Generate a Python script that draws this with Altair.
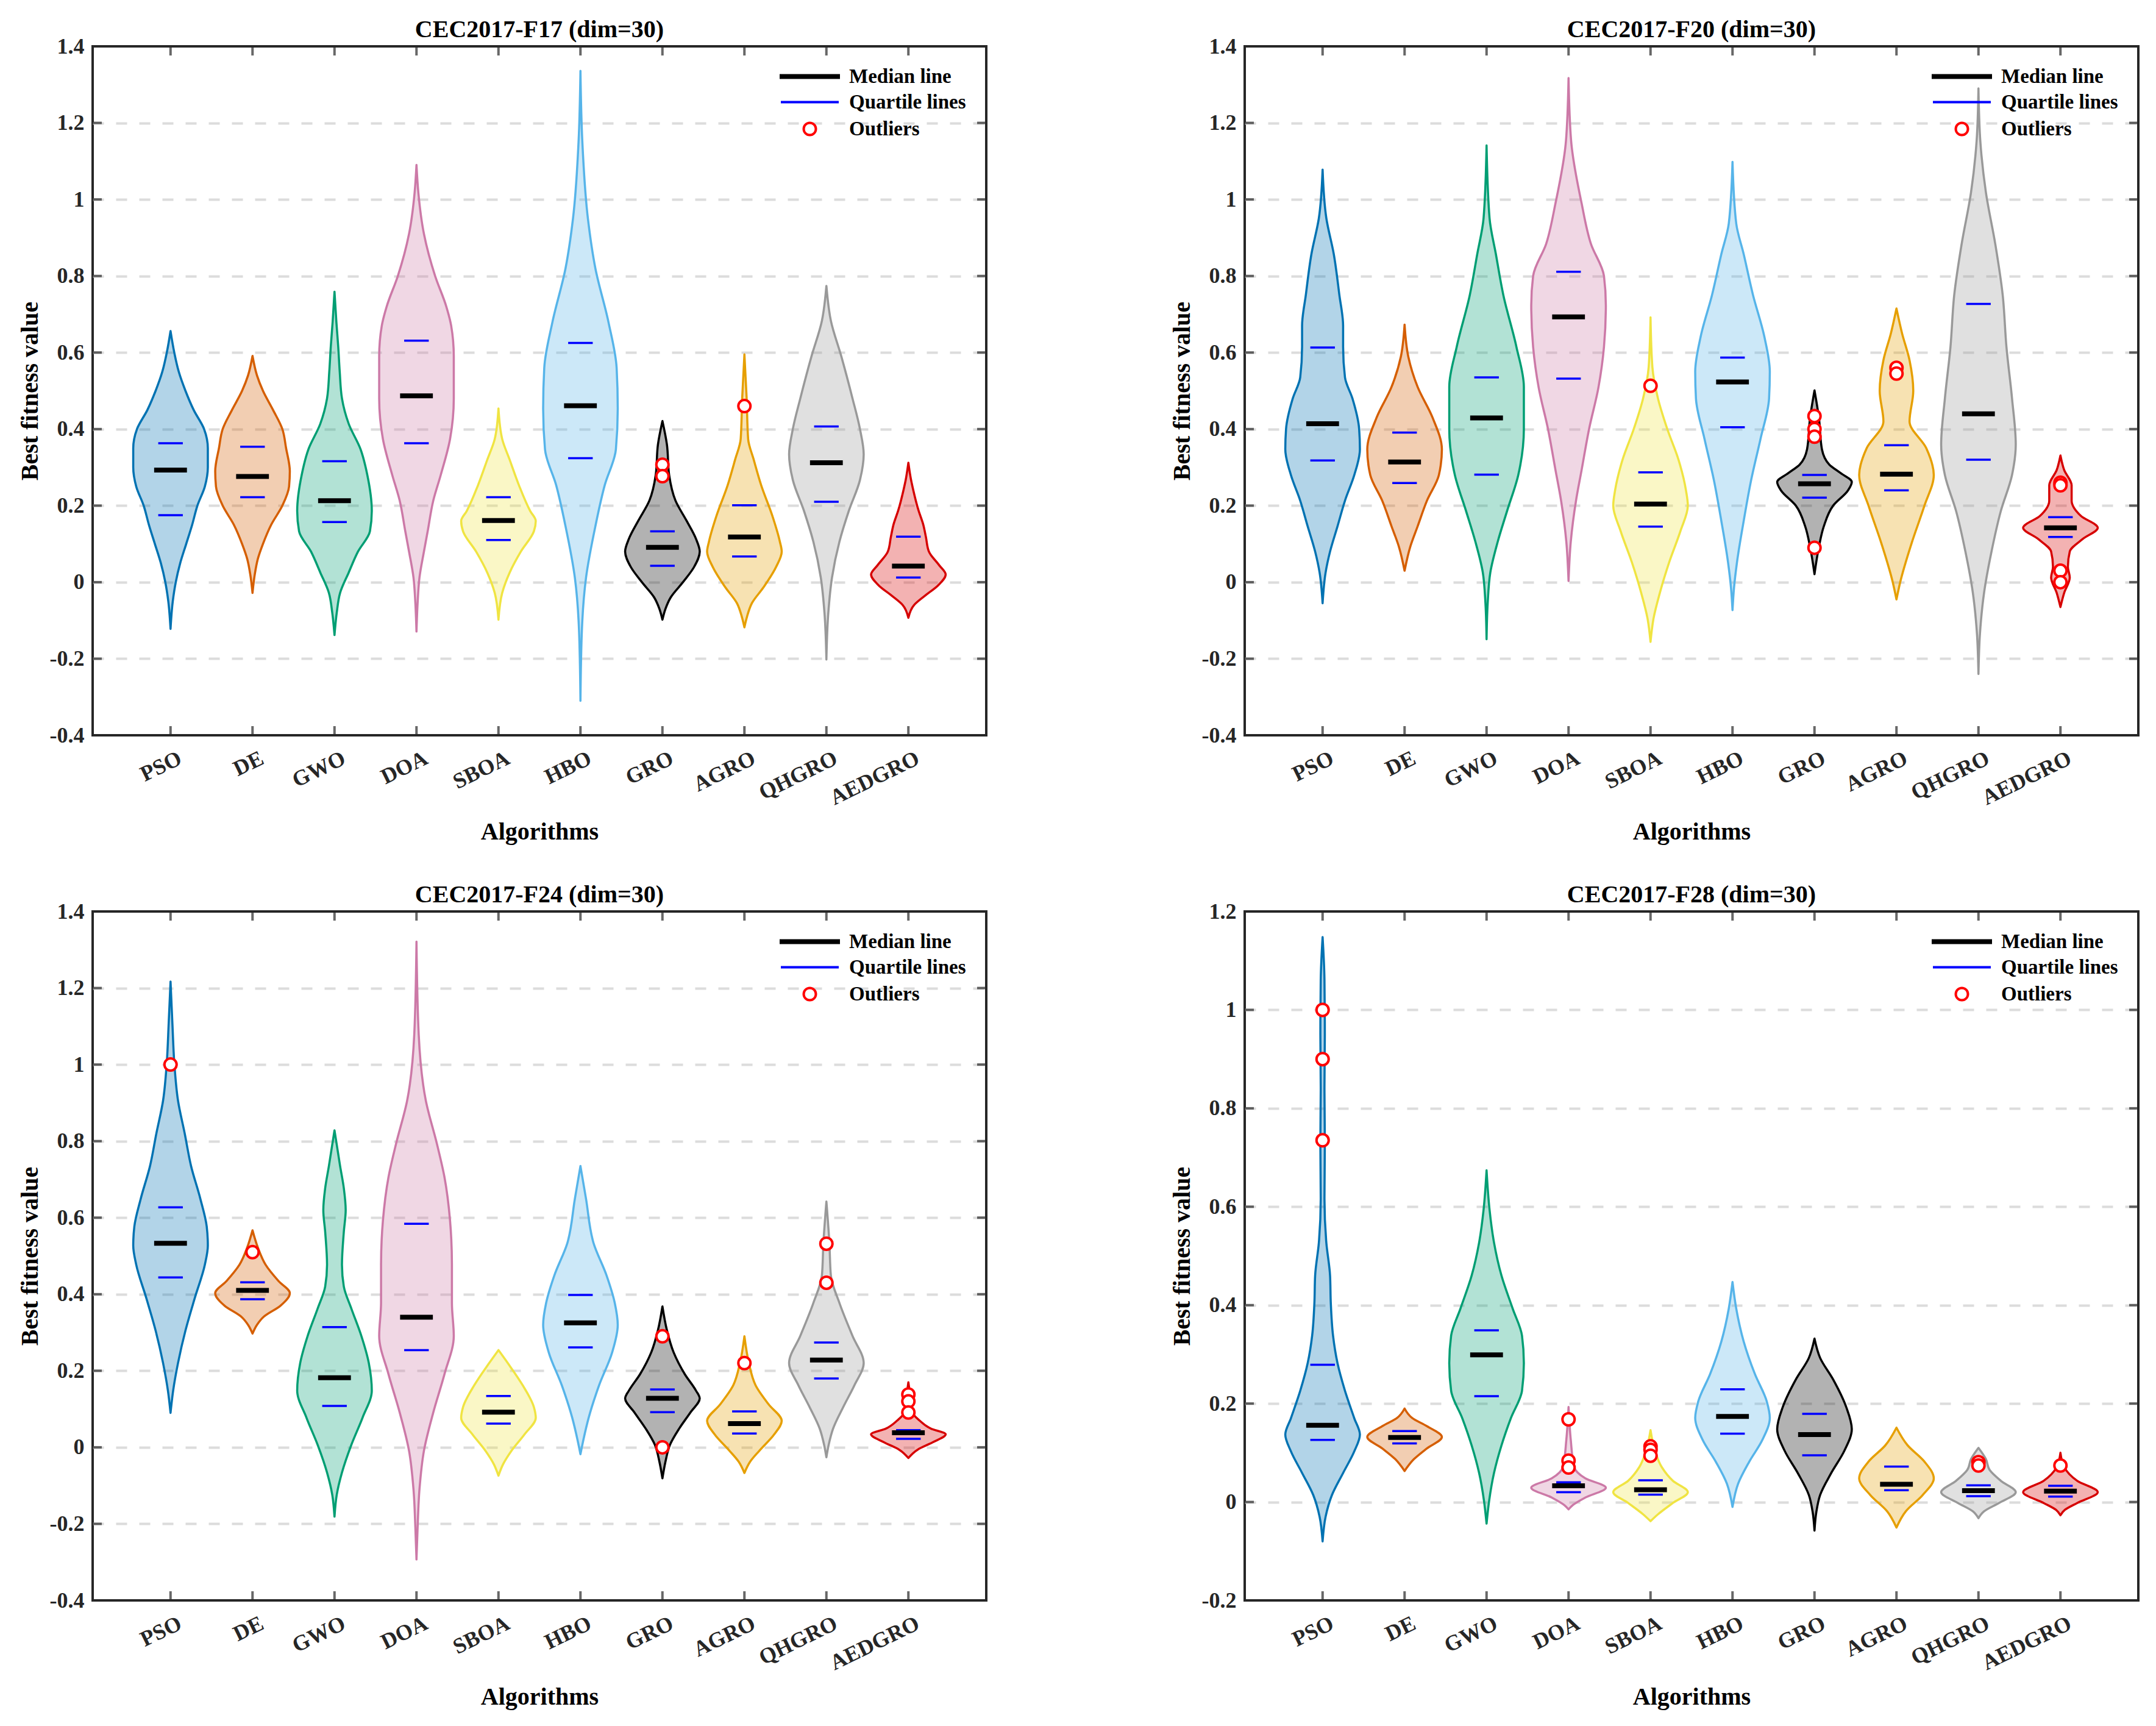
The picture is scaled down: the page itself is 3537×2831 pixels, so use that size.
import altair as alt
import pandas as pd

# ---------------- data ----------------
ALGOS = ["PSO", "DE", "GWO", "DOA", "SBOA", "HBO", "GRO", "AGRO", "QHGRO", "AEDGRO"]
LEGEND_ITEMS = ["Median line", "Quartile lines", "Outliers"]
YTICKS_WIDE = [-0.4, -0.2, 0, 0.2, 0.4, 0.6, 0.8, 1.0, 1.2, 1.4]
YTICKS_F28 = [-0.2, 0, 0.2, 0.4, 0.6, 0.8, 1.0, 1.2]

# violin outlines: (value, relative half-width)
F17_PROFILE = {
    "PSO": [(-0.122, 0), (-0.05, 0.06), (0.0, 0.14), (0.05, 0.26), (0.10, 0.42), (0.15, 0.58), (0.20, 0.72), (0.25, 0.92), (0.30, 1.0), (0.35, 1.0), (0.40, 0.9), (0.45, 0.62), (0.50, 0.40), (0.55, 0.22), (0.60, 0.10), (0.656, 0)],
    "DE": [(-0.028, 0), (0.02, 0.06), (0.06, 0.14), (0.10, 0.28), (0.15, 0.5), (0.20, 0.8), (0.25, 0.98), (0.29, 1.0), (0.35, 0.9), (0.40, 0.8), (0.45, 0.55), (0.50, 0.28), (0.54, 0.12), (0.591, 0)],
    "GWO": [(-0.138, 0), (-0.08, 0.06), (-0.028, 0.15), (0.025, 0.38), (0.08, 0.63), (0.133, 0.95), (0.186, 1.0), (0.28, 0.88), (0.347, 0.7), (0.414, 0.38), (0.48, 0.2), (0.55, 0.14), (0.615, 0.1), (0.68, 0.05), (0.759, 0)],
    "DOA": [(-0.129, 0), (-0.055, 0.03), (0.012, 0.08), (0.08, 0.2), (0.133, 0.3), (0.213, 0.45), (0.28, 0.65), (0.374, 0.9), (0.48, 1.0), (0.59, 1.0), (0.67, 0.93), (0.72, 0.8), (0.80, 0.5), (0.91, 0.2), (1.018, 0.05), (1.09, 0)],
    "SBOA": [(-0.098, 0), (-0.028, 0.1), (0.025, 0.3), (0.08, 0.6), (0.133, 0.95), (0.16, 1.0), (0.186, 0.85), (0.253, 0.55), (0.32, 0.3), (0.374, 0.1), (0.454, 0)],
    "HBO": [(-0.31, 0), (-0.122, 0.04), (0.012, 0.15), (0.146, 0.4), (0.253, 0.65), (0.347, 0.95), (0.454, 1.0), (0.56, 0.97), (0.68, 0.75), (0.82, 0.4), (0.95, 0.2), (1.152, 0.05), (1.336, 0)],
    "GRO": [(-0.098, 0), (-0.07, 0.08), (-0.04, 0.22), (0.0, 0.55), (0.04, 0.85), (0.08, 1.0), (0.113, 0.9), (0.16, 0.65), (0.213, 0.35), (0.28, 0.18), (0.36, 0.12), (0.421, 0)],
    "AGRO": [(-0.118, 0), (-0.09, 0.07), (-0.055, 0.2), (-0.015, 0.5), (0.04, 0.85), (0.08, 1.0), (0.106, 0.95), (0.173, 0.75), (0.253, 0.45), (0.32, 0.25), (0.374, 0.1), (0.48, 0.06), (0.595, 0)],
    "QHGRO": [(-0.202, 0), (-0.082, 0.05), (0.012, 0.15), (0.106, 0.35), (0.186, 0.6), (0.267, 0.9), (0.334, 1.0), (0.40, 0.9), (0.48, 0.7), (0.59, 0.4), (0.683, 0.12), (0.774, 0)],
    "AEDGRO": [(-0.093, 0), (-0.06, 0.15), (-0.035, 0.45), (-0.008, 0.8), (0.02, 1.0), (0.045, 0.82), (0.08, 0.55), (0.118, 0.47), (0.15, 0.4), (0.188, 0.27), (0.241, 0.13), (0.268, 0.07), (0.312, 0)],
}
F20_PROFILE = {
    "PSO": [(-0.055, 0), (0.025, 0.08), (0.08, 0.2), (0.146, 0.4), (0.213, 0.6), (0.28, 0.85), (0.347, 1.0), (0.40, 0.98), (0.48, 0.8), (0.535, 0.6), (0.615, 0.55), (0.67, 0.55), (0.75, 0.45), (0.857, 0.3), (0.951, 0.1), (1.078, 0)],
    "DE": [(0.03, 0), (0.092, 0.15), (0.146, 0.35), (0.213, 0.6), (0.28, 0.92), (0.347, 1.0), (0.43, 0.75), (0.51, 0.35), (0.589, 0.1), (0.673, 0)],
    "GWO": [(-0.149, 0), (-0.055, 0.03), (0.025, 0.1), (0.106, 0.3), (0.186, 0.55), (0.28, 0.85), (0.40, 1.0), (0.51, 1.0), (0.615, 0.8), (0.75, 0.45), (0.857, 0.25), (0.951, 0.08), (1.141, 0)],
    "DOA": [(0.003, 0), (0.106, 0.06), (0.213, 0.2), (0.293, 0.35), (0.40, 0.55), (0.508, 0.8), (0.615, 0.95), (0.723, 1.0), (0.80, 0.95), (0.884, 0.6), (0.99, 0.35), (1.152, 0.07), (1.317, 0)],
    "SBOA": [(-0.156, 0), (-0.095, 0.08), (-0.028, 0.25), (0.052, 0.5), (0.133, 0.8), (0.2, 1.0), (0.24, 0.95), (0.32, 0.75), (0.40, 0.45), (0.48, 0.2), (0.562, 0.05), (0.692, 0)],
    "HBO": [(-0.073, 0), (-0.015, 0.04), (0.052, 0.12), (0.16, 0.3), (0.267, 0.5), (0.374, 0.75), (0.48, 0.98), (0.55, 1.0), (0.643, 0.85), (0.75, 0.55), (0.857, 0.3), (0.937, 0.1), (1.098, 0)],
    "GRO": [(0.021, 0), (0.093, 0.12), (0.146, 0.25), (0.2, 0.5), (0.24, 0.9), (0.262, 1.0), (0.285, 0.7), (0.307, 0.4), (0.347, 0.2), (0.428, 0.12), (0.501, 0)],
    "AGRO": [(-0.045, 0), (0.0, 0.1), (0.1, 0.4), (0.2, 0.75), (0.28, 1.0), (0.35, 0.8), (0.42, 0.35), (0.5, 0.45), (0.58, 0.35), (0.65, 0.15), (0.715, 0)],
    "QHGRO": [(-0.24, 0), (-0.135, 0.04), (-0.028, 0.15), (0.08, 0.35), (0.186, 0.6), (0.28, 0.9), (0.36, 1.0), (0.48, 0.9), (0.615, 0.75), (0.75, 0.65), (0.884, 0.45), (1.018, 0.2), (1.152, 0.05), (1.29, 0)],
    "AEDGRO": [(-0.065, 0), (-0.028, 0.1), (0.012, 0.25), (0.04, 0.2), (0.08, 0.25), (0.113, 0.6), (0.142, 1.0), (0.173, 0.55), (0.213, 0.3), (0.253, 0.3), (0.293, 0.1), (0.331, 0)],
}
F24_PROFILE = {
    "PSO": [(0.09, 0), (0.148, 0.07), (0.22, 0.2), (0.305, 0.4), (0.39, 0.65), (0.477, 0.92), (0.527, 1.0), (0.577, 0.97), (0.649, 0.8), (0.735, 0.55), (0.82, 0.38), (0.906, 0.2), (1.006, 0.1), (1.107, 0.05), (1.217, 0)],
    "DE": [(0.297, 0), (0.32, 0.12), (0.341, 0.3), (0.37, 0.75), (0.403, 1.0), (0.434, 0.7), (0.477, 0.35), (0.52, 0.15), (0.567, 0)],
    "GWO": [(-0.181, 0), (-0.124, 0.06), (-0.066, 0.2), (0.006, 0.45), (0.077, 0.75), (0.148, 1.0), (0.22, 0.92), (0.291, 0.72), (0.363, 0.45), (0.42, 0.25), (0.477, 0.2), (0.563, 0.25), (0.62, 0.3), (0.677, 0.25), (0.735, 0.15), (0.828, 0)],
    "DOA": [(-0.293, 0), (-0.21, 0.03), (-0.11, 0.08), (-0.009, 0.2), (0.091, 0.45), (0.191, 0.75), (0.291, 1.0), (0.377, 0.95), (0.477, 0.95), (0.592, 0.9), (0.706, 0.75), (0.792, 0.55), (0.906, 0.25), (1.078, 0.06), (1.321, 0)],
    "SBOA": [(-0.074, 0), (-0.045, 0.12), (-0.009, 0.35), (0.034, 0.7), (0.077, 1.0), (0.105, 0.95), (0.162, 0.65), (0.22, 0.25), (0.254, 0)],
    "HBO": [(-0.018, 0), (0.02, 0.08), (0.077, 0.22), (0.162, 0.5), (0.248, 0.85), (0.32, 1.0), (0.377, 0.92), (0.449, 0.7), (0.534, 0.35), (0.649, 0.15), (0.735, 0)],
    "GRO": [(-0.081, 0), (-0.038, 0.08), (0.006, 0.2), (0.049, 0.45), (0.091, 0.75), (0.128, 1.0), (0.148, 0.9), (0.191, 0.6), (0.248, 0.3), (0.306, 0.12), (0.368, 0)],
    "AGRO": [(-0.067, 0), (-0.038, 0.15), (-0.009, 0.4), (0.034, 0.8), (0.069, 1.0), (0.112, 0.65), (0.162, 0.3), (0.22, 0.12), (0.29, 0)],
    "QHGRO": [(-0.026, 0), (0.006, 0.06), (0.049, 0.18), (0.105, 0.45), (0.162, 0.75), (0.22, 1.0), (0.291, 0.7), (0.377, 0.35), (0.449, 0.12), (0.534, 0.08), (0.642, 0)],
    "AEDGRO": [(-0.028, 0), (-0.006, 0.25), (0.013, 0.65), (0.034, 1.0), (0.049, 0.6), (0.07, 0.3), (0.092, 0.1), (0.134, 0.05), (0.17, 0)],
}
F28_PROFILE = {
    "PSO": [(-0.08, 0), (-0.03, 0.08), (0.014, 0.25), (0.059, 0.55), (0.103, 0.85), (0.137, 1.0), (0.17, 0.85), (0.226, 0.6), (0.282, 0.4), (0.338, 0.28), (0.404, 0.22), (0.46, 0.2), (0.527, 0.1), (0.616, 0.05), (0.727, 0.06), (0.838, 0.05), (0.95, 0.06), (1.061, 0.05), (1.148, 0)],
    "DE": [(0.063, 0), (0.087, 0.25), (0.109, 0.6), (0.132, 1.0), (0.154, 0.6), (0.171, 0.2), (0.19, 0)],
    "GWO": [(-0.044, 0), (0.003, 0.07), (0.059, 0.2), (0.115, 0.4), (0.17, 0.65), (0.226, 0.95), (0.282, 1.0), (0.338, 0.95), (0.393, 0.7), (0.46, 0.4), (0.527, 0.2), (0.594, 0.08), (0.674, 0)],
    "DOA": [(-0.015, 0), (-0.006, 0.12), (0.009, 0.45), (0.029, 1.0), (0.048, 0.45), (0.071, 0.15), (0.126, 0.06), (0.193, 0)],
    "SBOA": [(-0.039, 0), (-0.025, 0.2), (-0.002, 0.6), (0.02, 1.0), (0.043, 0.6), (0.071, 0.3), (0.104, 0.12), (0.146, 0)],
    "HBO": [(-0.01, 0), (0.037, 0.15), (0.082, 0.45), (0.126, 0.8), (0.171, 1.0), (0.204, 0.92), (0.26, 0.6), (0.326, 0.3), (0.393, 0.1), (0.447, 0)],
    "GRO": [(-0.058, 0), (-0.02, 0.05), (0.014, 0.15), (0.059, 0.45), (0.104, 0.8), (0.148, 1.0), (0.193, 0.85), (0.249, 0.5), (0.293, 0.15), (0.332, 0)],
    "AGRO": [(-0.052, 0), (-0.019, 0.25), (0.014, 0.7), (0.048, 1.0), (0.082, 0.75), (0.115, 0.3), (0.151, 0)],
    "QHGRO": [(-0.033, 0), (-0.019, 0.15), (-0.002, 0.55), (0.02, 1.0), (0.043, 0.6), (0.065, 0.3), (0.087, 0.2), (0.11, 0)],
    "AEDGRO": [(-0.027, 0), (-0.016, 0.12), (-0.002, 0.45), (0.02, 1.0), (0.043, 0.45), (0.071, 0.1), (0.1, 0)],
}

F17_MEDIAN = [0.293, 0.276, 0.213, 0.487, 0.161, 0.461, 0.091, 0.118, 0.312, 0.042]
F17_Q3 = [0.363, 0.354, 0.316, 0.631, 0.222, 0.625, 0.133, 0.201, 0.407, 0.119]
F17_Q1 = [0.175, 0.222, 0.157, 0.363, 0.110, 0.324, 0.043, 0.067, 0.210, 0.012]
F17_OUTLIERS = [("GRO", 0.307), ("GRO", 0.277), ("AGRO", 0.46)]

F20_MEDIAN = [0.414, 0.314, 0.429, 0.693, 0.204, 0.523, 0.257, 0.282, 0.44, 0.142]
F20_Q3 = [0.613, 0.391, 0.535, 0.811, 0.287, 0.587, 0.28, 0.358, 0.727, 0.17]
F20_Q1 = [0.318, 0.259, 0.281, 0.532, 0.145, 0.405, 0.221, 0.240, 0.32, 0.118]
F20_OUTLIERS = [("SBOA", 0.513), ("GRO", 0.434), ("GRO", 0.40), ("GRO", 0.38), ("GRO", 0.09),
                ("AGRO", 0.56), ("AGRO", 0.545), ("AEDGRO", 0.26), ("AEDGRO", 0.253),
                ("AEDGRO", 0.03), ("AEDGRO", 0.0)]

F24_MEDIAN = [0.533, 0.41, 0.182, 0.34, 0.092, 0.325, 0.128, 0.062, 0.228, 0.038]
F24_Q3 = [0.627, 0.431, 0.314, 0.584, 0.134, 0.398, 0.151, 0.094, 0.274, 0.045]
F24_Q1 = [0.444, 0.387, 0.108, 0.254, 0.062, 0.261, 0.092, 0.036, 0.18, 0.022]
F24_OUTLIERS = [("PSO", 1.0), ("DE", 0.51), ("GRO", 0.29), ("GRO", 0.0), ("AGRO", 0.22),
                ("QHGRO", 0.532), ("QHGRO", 0.43), ("AEDGRO", 0.138), ("AEDGRO", 0.12),
                ("AEDGRO", 0.091)]

F28_MEDIAN = [0.156, 0.131, 0.299, 0.033, 0.025, 0.174, 0.137, 0.036, 0.023, 0.022]
F28_Q3 = [0.279, 0.144, 0.349, 0.04, 0.044, 0.229, 0.179, 0.072, 0.034, 0.033]
F28_Q1 = [0.126, 0.119, 0.215, 0.02, 0.015, 0.139, 0.095, 0.024, 0.012, 0.011]
F28_OUTLIERS = [("PSO", 1.0), ("PSO", 0.9), ("PSO", 0.735), ("DOA", 0.168), ("DOA", 0.084),
                ("DOA", 0.07), ("SBOA", 0.113), ("SBOA", 0.106), ("SBOA", 0.094),
                ("QHGRO", 0.081), ("QHGRO", 0.074), ("AEDGRO", 0.074)]

# ---------------- style ----------------
PALETTE = ["#0072B2", "#D55E00", "#009E73", "#CC79A7", "#F0E442",
           "#56B4E9", "#000000", "#E69F00", "#999999", "#D60000"]
LEGEND_COLORS = ["#000000", "#0000FF", "#FF0000"]
# legend glyphs (unit-box paths, scaled by symbol size)
LEGEND_SHAPES = ["M-4.75,-0.2H4.75V0.2H-4.75Z", "M-4.75,0H4.75",
                 "M-1,0A1,1,0,1,1,1,0A1,1,0,1,1,-1,0Z"]
FONT = "Liberation Serif"
AXIS_COLOR = "#262626"
W, H = 1466, 1130
HALF = 0.455
XDOMAIN = [0.05, 10.95]

Y_LABEL_EXPR = "replace(replace(format(datum.value, '.1f'), '.0', ''), '\u2212', '-')"
X_LABEL_EXPR = "[" + ",".join("'%s'" % a for a in ALGOS) + "][datum.value - 1]"


def make_legend():
    return alt.Legend(
        title=None, orient="none", legendX=1160, legendY=33,
        labelFont=FONT, labelFontSize=33, labelFontWeight="bold", labelColor="#000000",
        labelLimit=600,
        symbolSize=400, symbolStrokeWidth=4, rowPadding=8, labelOffset=48,
        symbolOpacity=1,
    )


def panel(title, ydomain, yticks, profile, med, q1, q3, outliers):
    idx = {a: i + 1 for i, a in enumerate(ALGOS)}
    prof_df = pd.DataFrame(
        [{"algo": a, "idx": idx[a], "value": v, "w": w} for a in ALGOS for (v, w) in profile[a]]
    )
    med_df = pd.DataFrame({"idx": list(range(1, 11)), "value": med})
    q_df = pd.DataFrame({"idx": list(range(1, 11)) * 2, "value": list(q1) + list(q3)})
    out_df = pd.DataFrame({"idx": [idx[a] for a, _ in outliers],
                           "value": [v for _, v in outliers],
                           "kind": ["Outliers"] * len(outliers)})
    xtick_df = pd.DataFrame({"idx": list(range(1, 11))})
    ytick_df = pd.DataFrame({"v": yticks})

    xscale = alt.Scale(domain=XDOMAIN, nice=False, zero=False)
    yscale = alt.Scale(domain=ydomain, nice=False, zero=False)

    xaxis = alt.Axis(
        values=list(range(1, 11)), labelExpr=X_LABEL_EXPR, labelAngle=334,
        labelAlign="right", labelBaseline="top", labelPadding=20, labelOffset=8,
        labelOverlap=False, labelBound=False,
        ticks=False, domain=False, grid=False,
        labelFont=FONT, labelFontSize=36, labelFontWeight="bold", labelColor=AXIS_COLOR,
        title="Algorithms", titleFont=FONT, titleFontSize=40, titleFontWeight="bold",
        titleColor="#000000", titleY=158, titleBaseline="middle",
    )
    grid_cond = {"condition": {"test": "datum.value <= %f || datum.value >= %f"
                               % (ydomain[0] + 1e-6, ydomain[1] - 1e-6), "value": 0},
                 "value": 1}
    yaxis = alt.Axis(
        values=yticks, labelExpr=Y_LABEL_EXPR, ticks=False, domain=False,
        labelOverlap=False,
        grid=True, gridColor="#DCDCDC", gridDash=[18, 20], gridWidth=4, gridOpacity=grid_cond,
        labelFont=FONT, labelFontSize=36, labelFontWeight="bold", labelColor=AXIS_COLOR,
        labelPadding=14,
        title="Best fitness value", titleFont=FONT, titleFontSize=40, titleFontWeight="bold",
        titleColor="#000000", titleX=-103, titleBaseline="middle",
    )

    def X(field):
        return alt.X(field, scale=xscale, axis=xaxis)

    def Y(field):
        return alt.Y(field, scale=yscale, axis=yaxis)

    violins = alt.Chart(prof_df).transform_calculate(
        xl="datum.idx - datum.w * %f" % HALF,
        xr="datum.idx + datum.w * %f" % HALF,
    ).mark_area(orient="horizontal", interpolate="monotone", strokeWidth=3.5,
                fillOpacity=0.3, strokeJoin="round").encode(
        y=Y("value:Q"),
        x=alt.X("xl:Q", scale=xscale, axis=xaxis, stack=None),
        x2="xr:Q",
        fill=alt.Fill("algo:N", scale=alt.Scale(domain=ALGOS, range=PALETTE), legend=None),
        stroke=alt.Stroke("algo:N", scale=alt.Scale(domain=ALGOS, range=PALETTE), legend=None),
    )

    medians = alt.Chart(med_df).transform_calculate(
        a="datum.idx - 0.2", b="datum.idx + 0.2"
    ).mark_rule(color="#000000", strokeWidth=8, strokeCap="butt").encode(
        x=X("a:Q"), x2="b:Q", y=Y("value:Q"),
    )
    quartiles = alt.Chart(q_df).transform_calculate(
        a="datum.idx - 0.15", b="datum.idx + 0.15"
    ).mark_rule(color="#0000FF", strokeWidth=3.5, strokeCap="butt").encode(
        x=X("a:Q"), x2="b:Q", y=Y("value:Q"),
    )

    points = alt.Chart(out_df).mark_point(
        filled=False, fill="#ffffff", size=400, strokeWidth=4, opacity=1
    ).encode(
        x=X("idx:Q"),
        y=Y("value:Q"),
        color=alt.Color("kind:N", scale=alt.Scale(domain=LEGEND_ITEMS, range=LEGEND_COLORS),
                        legend=make_legend()),
        shape=alt.Shape("kind:N", scale=alt.Scale(domain=LEGEND_ITEMS, range=LEGEND_SHAPES),
                        legend=make_legend()),
    )

    tick_style = dict(color=AXIS_COLOR, thickness=4, size=15)
    xt_bottom = alt.Chart(xtick_df).mark_tick(orient="vertical", **tick_style).encode(
        x=X("idx:Q"), y=alt.value(H - 7.5))
    xt_top = alt.Chart(xtick_df).mark_tick(orient="vertical", **tick_style).encode(
        x=X("idx:Q"), y=alt.value(7.5))
    yt_left = alt.Chart(ytick_df).mark_tick(orient="horizontal", **tick_style).encode(
        y=Y("v:Q"), x=alt.value(7.5))
    yt_right = alt.Chart(ytick_df).mark_tick(orient="horizontal", **tick_style).encode(
        y=Y("v:Q"), x=alt.value(W - 7.5))

    return alt.layer(
        violins, quartiles, medians, points, xt_bottom, xt_top, yt_left, yt_right
    ).properties(
        width=W, height=H,
        title=alt.TitleParams(title, font=FONT, fontSize=40, fontWeight="bold",
                              color="#000000", offset=-11, anchor="middle"),
    )


p1 = panel("CEC2017-F17 (dim=30)", [-0.4, 1.4], YTICKS_WIDE, F17_PROFILE, F17_MEDIAN, F17_Q1, F17_Q3, F17_OUTLIERS)
p2 = panel("CEC2017-F20 (dim=30)", [-0.4, 1.4], YTICKS_WIDE, F20_PROFILE, F20_MEDIAN, F20_Q1, F20_Q3, F20_OUTLIERS)
p3 = panel("CEC2017-F24 (dim=30)", [-0.4, 1.4], YTICKS_WIDE, F24_PROFILE, F24_MEDIAN, F24_Q1, F24_Q3, F24_OUTLIERS)
p4 = panel("CEC2017-F28 (dim=30)", [-0.2, 1.2], YTICKS_F28, F28_PROFILE, F28_MEDIAN, F28_Q1, F28_Q3, F28_OUTLIERS)

row1 = alt.hconcat(p1, p2, spacing=297).resolve_scale(
    color="independent", shape="independent").resolve_legend(color="independent", shape="independent")
row2 = alt.hconcat(p3, p4, spacing=297).resolve_scale(
    color="independent", shape="independent").resolve_legend(color="independent", shape="independent")

chart = alt.vconcat(row1, row2, spacing=60).resolve_scale(
    color="independent", shape="independent").resolve_legend(
    color="independent", shape="independent").properties(
    padding={"left": 27, "top": 27, "right": 20, "bottom": 20},
    background="#ffffff",
).configure_view(stroke=AXIS_COLOR, strokeWidth=4)

chart.save("out.html", embed_options={"renderer": "svg", "actions": False})
